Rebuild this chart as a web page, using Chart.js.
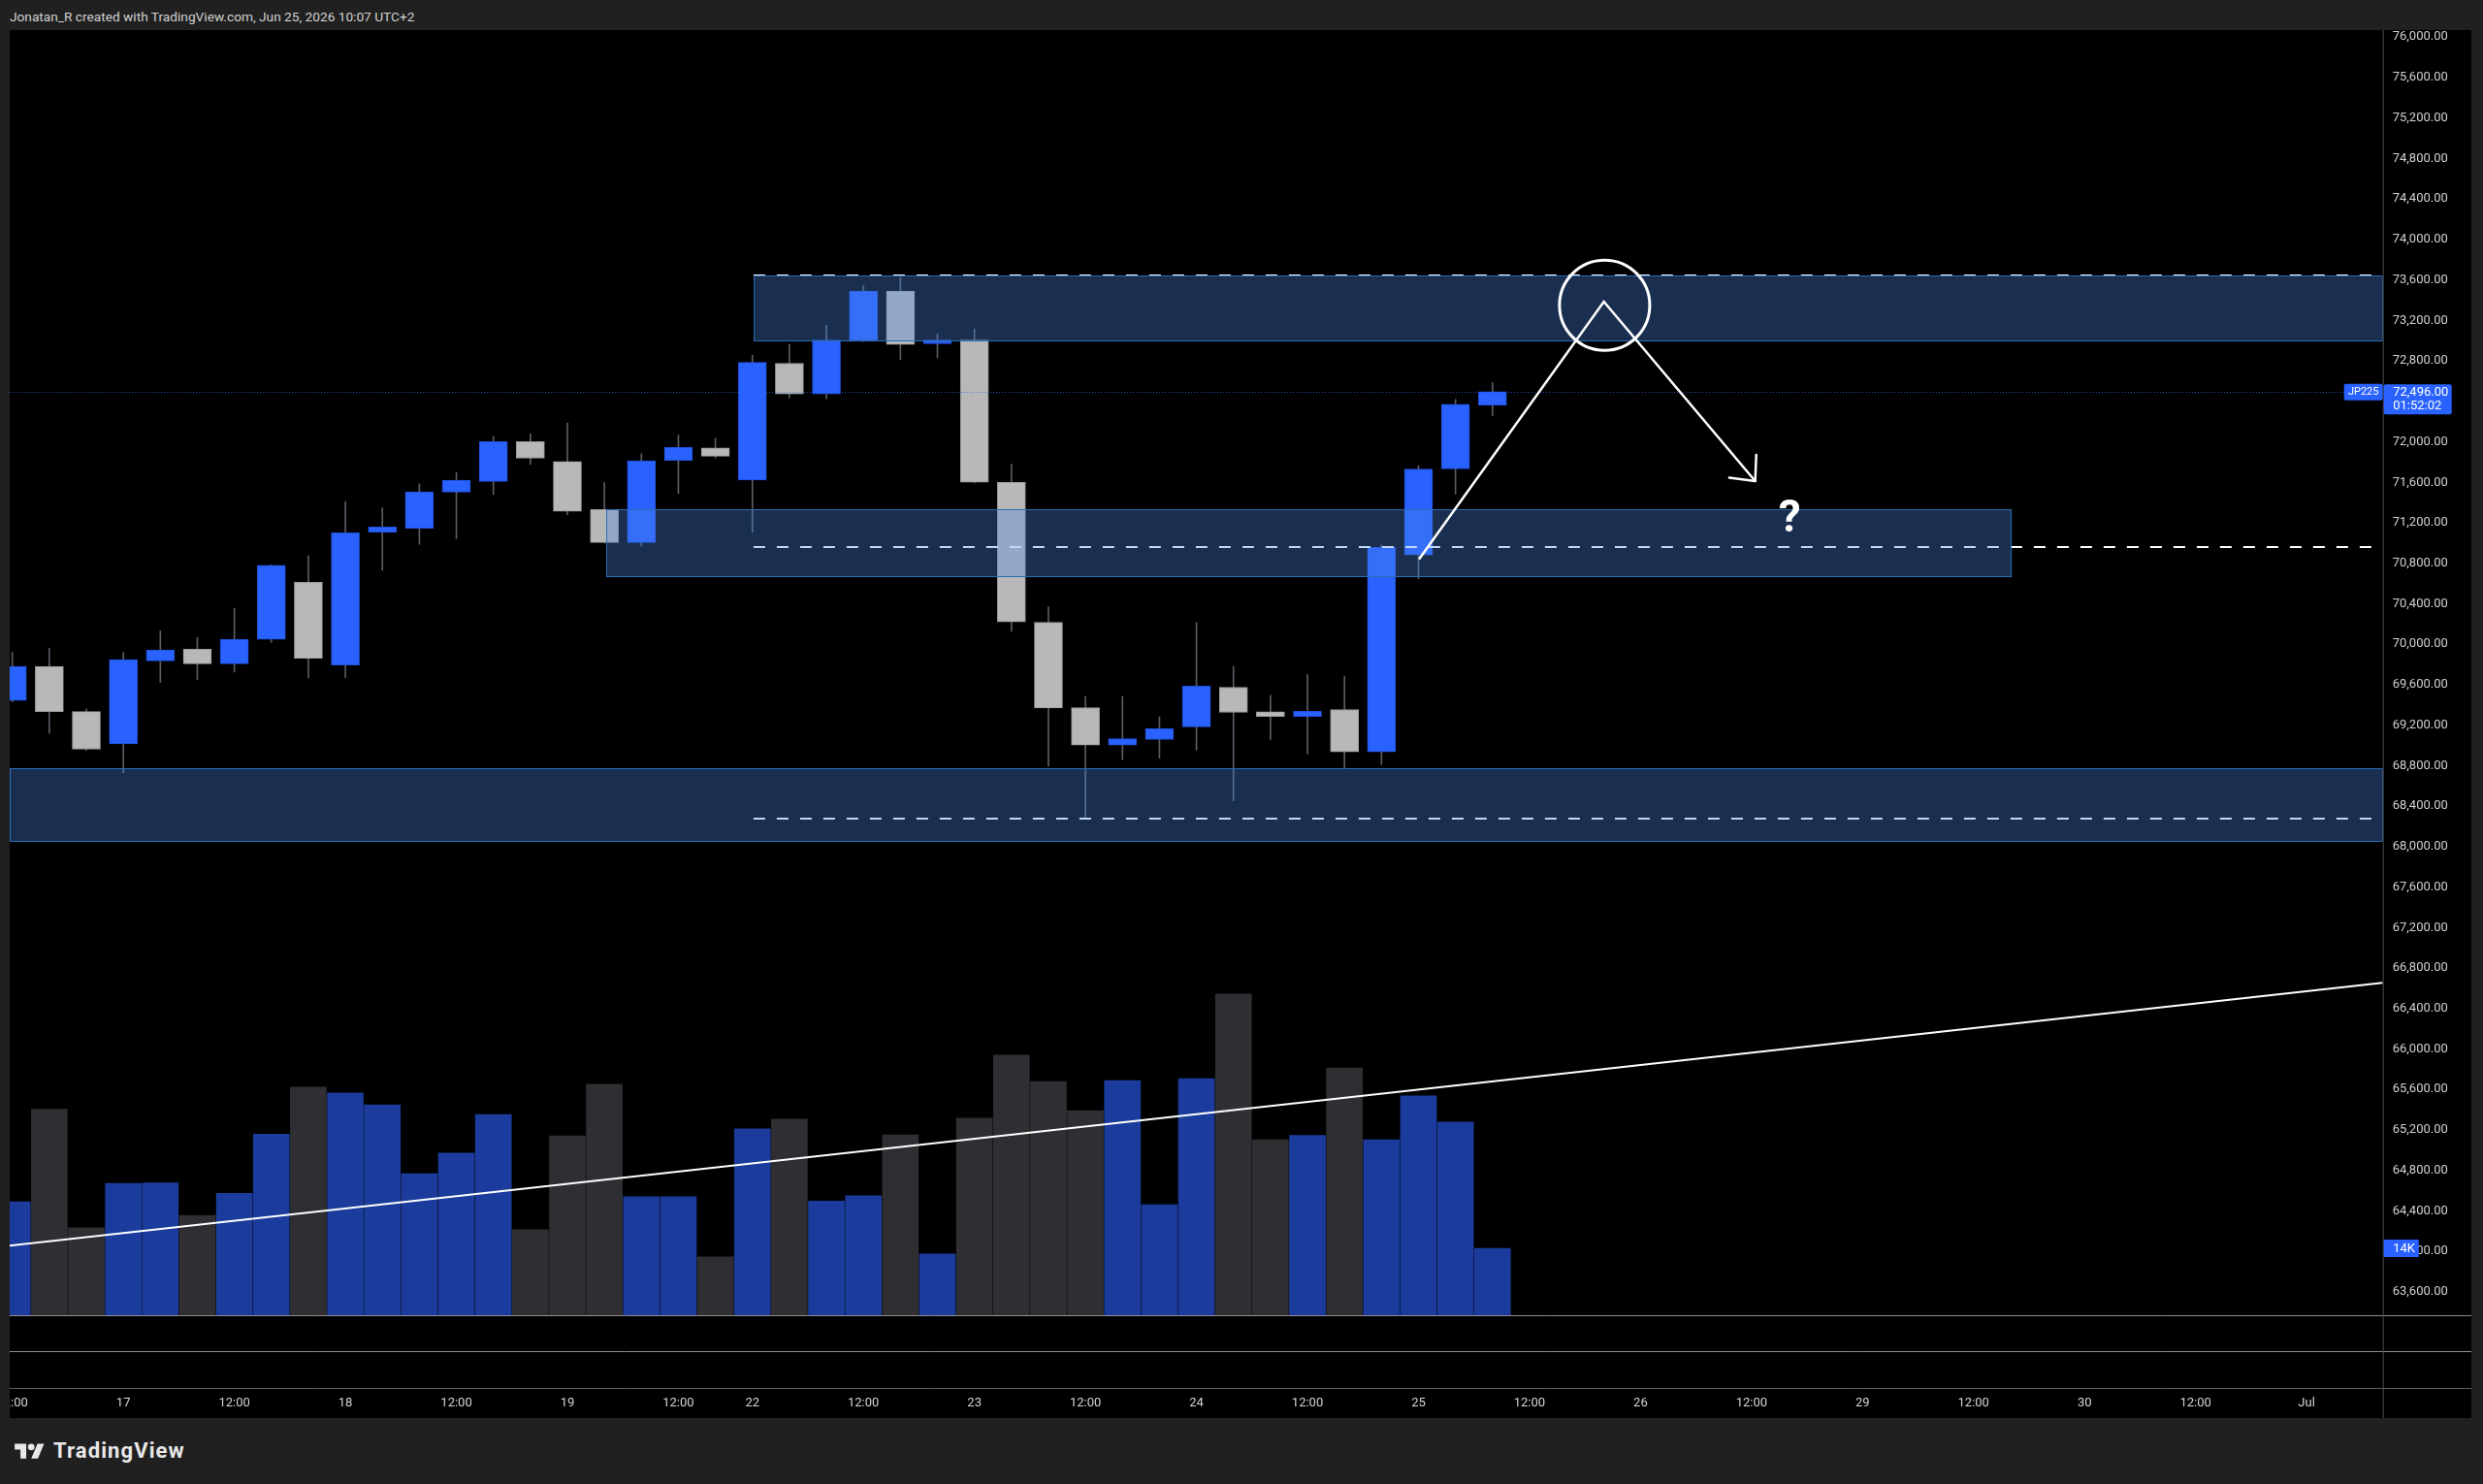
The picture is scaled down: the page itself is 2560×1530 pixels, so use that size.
<!DOCTYPE html>
<html>
<head>
<meta charset="utf-8">
<script src="https://cdn.jsdelivr.net/npm/chart.js@4.4.1/dist/chart.umd.min.js"></script>
<style>
  html, body { margin: 0; padding: 0; width: 2560px; height: 1530px; overflow: hidden; background: #202020; font-family: Roboto, "Noto Sans", sans-serif; }
  #header { position: absolute; left: 10px; top: 10px; font-size: 13.7px; line-height: 14px; color: #d0d0d0; white-space: nowrap; }
  #wrap { position: absolute; left: 10px; top: 31px; width: 2538px; height: 1431px; background: #000; }
  #logo { position: absolute; left: 15px; top: 1485px; }
  #brand { position: absolute; left: 55px; top: 1485px; font-size: 22px; line-height: 22px; font-weight: 700; letter-spacing: 1.1px; color: #e8e8e8; }
</style>
</head>
<body>
<div id="header">Jonatan_R created with TradingView.com, Jun 25, 2026 10:07 UTC+2</div>
<div id="wrap"><canvas id="chart" width="2538" height="1431"></canvas></div>
<svg id="logo" width="31" height="24" viewBox="0 0 36 28"><g fill="#e8e8e8"><path d="M14 22H7V11H0V4h14v18zM28 22h-8l7.5-18h8L28 22z"/><circle cx="20" cy="8" r="4"/></g></svg>
<div id="brand">TradingView</div>
<script>
// 4h candles, JP225
var opens  = [69444, 69780, 69335, 69016, 69835, 69951, 69807, 70047, 70612, 69793,
              71108, 71146, 71502, 71608, 72001, 71806, 71331, 71005, 71817, 71940,
              71622, 72777, 72473, 73005, 73489, 72968, 73005, 71600, 70217, 69374,
              69003, 69058, 69183, 69575, 69333, 69286, 69355, 68937, 70881, 71732, 72363];
var highs  = [69920, 69961, 69362, 69917, 70132, 70067, 70355, 70785, 70875, 71409,
              71348, 71584, 71697, 72053, 72080, 72186, 71598, 71882, 72067, 72036,
              72857, 72964, 73151, 73544, 73625, 73067, 73115, 71780, 70371, 69484,
              69484, 69282, 70213, 69781, 69495, 69700, 69685, 70980, 71765, 72418, 72583];
var lows   = [69430, 69119, 68951, 68729, 69622, 69650, 69725, 70016, 69667, 69670,
              70732, 70988, 71043, 71478, 71779, 71279, 71000, 70971, 71491, 71841,
              71108, 72433, 72425, 72990, 72814, 72829, 71593, 70126, 68794, 68281,
              68860, 68875, 68952, 68453, 69058, 68915, 68776, 68812, 70646, 71483, 72260];
var closes = [69780, 69335, 68962, 69848, 69944, 69807, 70050, 70779, 69862, 71101,
              71159, 71505, 71622, 72001, 71837, 71313, 71005, 71813, 71947, 71858,
              72785, 72473, 73005, 73489, 72961, 73005, 71600, 70221, 69370, 69003,
              69066, 69168, 69586, 69326, 69286, 69337, 68937, 70958, 71732, 72370, 72496];
var volumes = [23700, 43100, 18300, 27600, 27700, 20900, 25500, 37900, 47700, 46500,
               44000, 29600, 33900, 42000, 17900, 37500, 48300, 24800, 24800, 12200,
               39000, 41000, 23900, 25000, 37700, 12800, 41200, 54400, 48900, 42800,
               49100, 23100, 49500, 67200, 36700, 37600, 51700, 36700, 45900, 40400, 14000];

// time axis labels (bar index -> text)
var timeTickPos  = [0, 3, 6, 9, 12, 15, 18, 20, 23, 26, 29, 32, 35, 38, 41, 44, 47, 50, 53, 56, 59, 62];
var timeTickText = ['12:00', '17', '12:00', '18', '12:00', '19', '12:00', '22', '12:00', '23', '12:00',
                    '24', '12:00', '25', '12:00', '26', '12:00', '29', '12:00', '30', '12:00', 'Jul'];
var priceTicks = [63600, 64000, 64400, 64800, 65200, 65600, 66000, 66400, 66800, 67200, 67600,
                  68000, 68400, 68800, 69200, 69600, 70000, 70400, 70800, 71200, 71600, 72000,
                  72400, 72800, 73200, 73600, 74000, 74400, 74800, 75200, 75600, 76000];

// drawings (bar index, price)
var levelPrices = [73640, 70957, 68273];
var levelFrom = 20.03;
var zoneTop    = [73640, 71331, 68779];
var zoneBottom = [73005, 70669, 68056];
var zoneFrom   = [20.03, 16.04, null];
var zoneTo     = [null, 54.03, null];
var pathX = [38.03, 43.01, 47.10];
var pathY = [70848, 73385, 71612];
var circleX = 43.03, circleY = 73349, circleR = 446;
var markX = 48.03, markY = 71270;
var trendX = [-0.071, 64.06];
var trendY = [64056, 66654];

var BLUE = '#2962ff', GRAY = '#b8b8b8';
var up = closes.map(function (c, i) { return c >= opens[i]; });

var bodies = opens.map(function (o, i) { return { x: i, y: [o, closes[i]] }; });
var wicks = lows.map(function (l, i) { return { x: i, y: [l, highs[i]] }; });
var vols = volumes.map(function (v, i) { return { x: i, y: v }; });
var trend = trendX.map(function (t, i) { return { x: t, y: trendY[i] }; });

function fmt(v) {
    return v.toLocaleString('en-US', { minimumFractionDigits: 2, maximumFractionDigits: 2 });
}

function roundRect(ctx, x, y, w, h, r) {
    ctx.beginPath();
    ctx.moveTo(x + r, y);
    ctx.arcTo(x + w, y, x + w, y + h, r);
    ctx.arcTo(x + w, y + h, x, y + h, r);
    ctx.arcTo(x, y + h, x, y, r);
    ctx.arcTo(x, y, x + w, y, r);
    ctx.closePath();
}

// scales must not reserve room for label overflow
function noPad(s) {
    s.paddingLeft = 0; s.paddingRight = 0; s.paddingTop = 0; s.paddingBottom = 0;
}

var drawings = {
    id: 'drawings',
    afterDatasetsDraw: function (chart) {
        var ctx = chart.ctx, a = chart.chartArea, x = chart.scales.x, y = chart.scales.y;
        ctx.save();
        ctx.beginPath();
        ctx.rect(a.left, a.top, a.right - a.left, a.bottom - a.top);
        ctx.clip();

        // last price line
        var py = Math.round(y.getPixelForValue(closes[closes.length - 1])) + 0.5;
        ctx.strokeStyle = 'rgba(41,98,255,0.8)';
        ctx.lineWidth = 1;
        ctx.setLineDash([1, 2]);
        ctx.beginPath(); ctx.moveTo(a.left, py); ctx.lineTo(a.right, py); ctx.stroke();

        // dashed levels
        ctx.setLineDash([12, 12]);
        ctx.strokeStyle = '#ffffff';
        ctx.lineWidth = 2;
        levelPrices.forEach(function (p) {
            var ly = Math.round(y.getPixelForValue(p));
            ctx.beginPath(); ctx.moveTo(x.getPixelForValue(levelFrom), ly); ctx.lineTo(a.right, ly); ctx.stroke();
        });
        ctx.setLineDash([]);

        // zones
        zoneTop.forEach(function (t, i) {
            var l = zoneFrom[i] == null ? a.left : x.getPixelForValue(zoneFrom[i]);
            var r = zoneTo[i] == null ? a.right : x.getPixelForValue(zoneTo[i]);
            var ty = Math.round(y.getPixelForValue(t)), by = Math.round(y.getPixelForValue(zoneBottom[i]));
            l = Math.round(l); r = Math.round(r);
            ctx.fillStyle = 'rgba(76,137,231,0.34)';
            ctx.fillRect(l, ty, r - l, by - ty);
            ctx.strokeStyle = '#2a6cb5';
            ctx.lineWidth = 1;
            ctx.strokeRect(l + 0.5, ty + 0.5, r - l - 1, by - ty);
        });

        // hand drawn path with arrow
        ctx.strokeStyle = '#ffffff';
        ctx.lineWidth = 2.5;
        ctx.lineJoin = 'miter';
        ctx.lineCap = 'round';
        var pts = pathX.map(function (px, i) { return [x.getPixelForValue(px), y.getPixelForValue(pathY[i])]; });
        ctx.beginPath();
        pts.forEach(function (p, i) { if (i === 0) ctx.moveTo(p[0], p[1]); else ctx.lineTo(p[0], p[1]); });
        ctx.stroke();
        var tip = pts[pts.length - 1], prev = pts[pts.length - 2];
        var ang = Math.atan2(prev[1] - tip[1], prev[0] - tip[0]);
        ctx.beginPath();
        [-0.74, 0.74].forEach(function (d) {
            ctx.moveTo(tip[0], tip[1]);
            ctx.lineTo(tip[0] + 27 * Math.cos(ang + d), tip[1] + 27 * Math.sin(ang + d));
        });
        ctx.stroke();

        // circle
        var cx = x.getPixelForValue(circleX), cy = y.getPixelForValue(circleY);
        var cr = Math.abs(y.getPixelForValue(circleY + circleR) - cy);
        ctx.lineWidth = 3;
        ctx.beginPath(); ctx.arc(cx, cy, cr, 0, Math.PI * 2); ctx.stroke();

        // question mark
        ctx.fillStyle = '#ffffff';
        ctx.font = 'bold 46px Roboto';
        ctx.textAlign = 'center';
        ctx.textBaseline = 'alphabetic';
        ctx.fillText('?', x.getPixelForValue(markX), y.getPixelForValue(markY) + 46 * 0.355);
        ctx.restore();
    },
    afterDraw: function (chart) {
        var ctx = chart.ctx, a = chart.chartArea, y = chart.scales.y, yv = chart.scales.yv;
        var W = chart.width, H = chart.height;
        ctx.save();
        // pane separators
        ctx.lineWidth = 1;
        ctx.strokeStyle = '#8f8f8f';
        [a.bottom, a.bottom + 37].forEach(function (sy) {
            ctx.beginPath(); ctx.moveTo(0, sy + 0.5); ctx.lineTo(W, sy + 0.5); ctx.stroke();
        });
        ctx.strokeStyle = '#5f5f5f';
        ctx.beginPath(); ctx.moveTo(0, a.bottom + 75.5); ctx.lineTo(W, a.bottom + 75.5); ctx.stroke();
        ctx.strokeStyle = '#4c4c4c';
        ctx.beginPath(); ctx.moveTo(a.right + 0.5, 0); ctx.lineTo(a.right + 0.5, H); ctx.stroke();

        // last price label + symbol tag
        var last = closes[closes.length - 1];
        var py = y.getPixelForValue(last);
        ctx.fillStyle = BLUE;
        roundRect(ctx, a.right - 40, py - 8, 40, 17, 2); ctx.fill();
        roundRect(ctx, a.right + 1, py - 7.5, 70, 31, 2); ctx.fill();
        ctx.fillStyle = '#ffffff';
        ctx.textBaseline = 'middle';
        ctx.textAlign = 'center';
        ctx.font = '11px Roboto';
        ctx.fillText('JP225', a.right - 20, py + 0.5);
        ctx.textAlign = 'left';
        ctx.font = '13px Roboto';
        ctx.fillText(fmt(last), a.right + 10.5, py + 0.5);
        ctx.fillText('01:52:02', a.right + 10.5, py + 15);

        // volume label
        var lv = volumes[volumes.length - 1];
        var vy = yv.getPixelForValue(lv);
        ctx.fillStyle = BLUE;
        ctx.fillRect(a.right + 1, vy - 9, 36, 18);
        ctx.fillStyle = '#ffffff';
        ctx.font = '13px Roboto';
        ctx.fillText(Math.round(lv / 1000) + 'K', a.right + 10.5, vy + 0.5);
        ctx.restore();
    }
};

new Chart(document.getElementById('chart'), {
    type: 'bar',
    data: {
        datasets: [
            {
                type: 'line',
                data: trend,
                yAxisID: 'y',
                borderColor: '#ffffff',
                borderWidth: 2,
                pointRadius: 0,
                order: 1
            },
            {
                data: bodies,
                yAxisID: 'y',
                backgroundColor: up.map(function (u) { return u ? BLUE : GRAY; }),
                borderColor: up.map(function (u) { return u ? '#2150d8' : '#9c9c9c'; }),
                borderWidth: 1,
                borderSkipped: false,
                barThickness: 29,
                grouped: false,
                order: 2
            },
            {
                data: wicks,
                yAxisID: 'y',
                backgroundColor: '#5a5d66',
                borderWidth: 0,
                barThickness: 1,
                grouped: false,
                order: 3
            },
            {
                data: vols,
                yAxisID: 'yv',
                backgroundColor: up.map(function (u) { return u ? '#1b3c9c' : '#2f2f33'; }),
                borderWidth: 0,
                barThickness: 37,
                grouped: false,
                order: 4
            }
        ]
    },
    options: {
        responsive: false,
        animation: false,
        layout: { padding: 0 },
        plugins: { legend: { display: false }, tooltip: { enabled: false } },
        scales: {
            x: {
                type: 'linear',
                min: -0.071,
                max: 64.06,
                offset: false,
                grid: { display: false, offset: false, drawTicks: false },
                border: { display: false },
                afterFit: function (s) { s.height = 106; noPad(s); },
                afterBuildTicks: function (s) { s.ticks = timeTickPos.map(function (v) { return { value: v }; }); },
                ticks: {
                    autoSkip: false,
                    maxRotation: 0,
                    padding: 83,
                    color: '#d4d4d4',
                    font: { family: 'Roboto', size: 13 },
                    callback: function (v) { return timeTickText[timeTickPos.indexOf(v)]; }
                }
            },
            y: {
                position: 'right',
                min: 63369,
                max: 76069,
                grid: { display: false, drawTicks: false },
                border: { display: false },
                afterFit: function (s) { s.width = 91.3; noPad(s); },
                afterBuildTicks: function (s) { s.ticks = priceTicks.map(function (v) { return { value: v }; }); },
                ticks: {
                    crossAlign: 'near',
                    padding: 10,
                    color: '#cfd0d4',
                    font: { family: 'Roboto', size: 13 },
                    callback: function (v) { return fmt(v); }
                }
            },
            yv: {
                display: false,
                position: 'right',
                min: 0,
                max: 268840,
                afterFit: function (s) { s.width = 0; noPad(s); }
            }
        }
    },
    plugins: [drawings]
});
</script>
</body>
</html>
